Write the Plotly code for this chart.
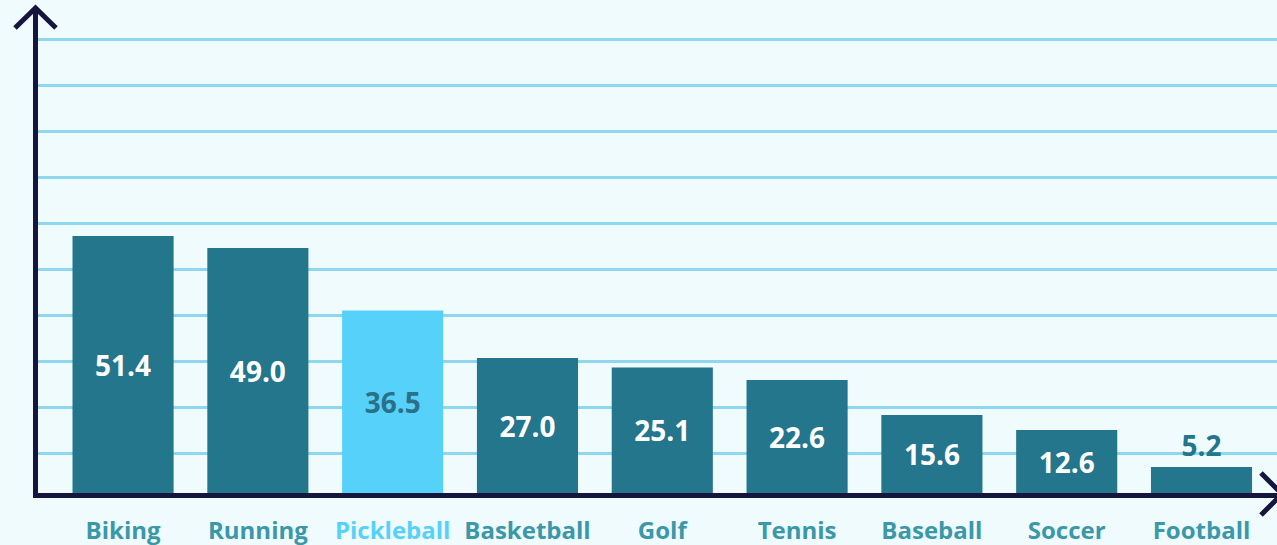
import plotly.graph_objects as go

categories = ["Biking", "Running", "Pickleball", "Basketball", "Golf", "Tennis", "Baseball", "Soccer", "Football"]
values = [51.4, 49.0, 36.5, 27.0, 25.1, 22.6, 15.6, 12.6, 5.2]
highlight = "Pickleball"

BG = "#effbfd"
BAR = "#23768b"
HI = "#56d1fa"
NAVY = "#15153d"
GRID = "#8fd7ef"
LABEL = "#3a98a9"

W, H = 1277, 545
ML, MR, MT, MB = 38, 0, 10, 52
PW, PH = W - ML - MR, H - MT - MB

bar_colors = [HI if c == highlight else BAR for c in categories]
text_colors = []
positions = []
for c, v in zip(categories, values):
    if v < 8:
        positions.append("outside")
        text_colors.append(BAR)
    elif c == highlight:
        positions.append("inside")
        text_colors.append("#2a7088")
    else:
        positions.append("inside")
        text_colors.append("white")

fig = go.Figure(go.Bar(
    x=list(range(len(categories))),
    y=values,
    marker=dict(color=bar_colors, line=dict(width=0)),
    text=[f"{v:.1f}" for v in values],
    textposition=positions,
    insidetextanchor="middle",
    textfont=dict(family="Open Sans", size=28, color=text_colors, weight="bold"),
    cliponaxis=False,
    width=0.75,
))

ticktext = [
    f'<span style="color:{HI}">{c}</span>' if c == highlight else c
    for c in categories
]

def px(x):
    return (x - ML) / PW

def py(y):
    return (MT + PH - y) / PH

shapes = [
    # y-axis arrow head
    dict(type="path", xref="paper", yref="paper",
         path=f"M {px(15)} {py(28)} L {px(35.5)} {py(8)} L {px(56)} {py(28)}",
         line=dict(color=NAVY, width=5)),
    dict(type="line", xref="paper", yref="paper",
         x0=px(35.5), x1=px(35.5), y0=py(20), y1=py(8),
         line=dict(color=NAVY, width=5)),
    # x-axis arrow head
    dict(type="path", xref="paper", yref="paper",
         path=f"M {px(1261)} {py(473)} L {px(1282)} {py(494)} L {px(1261)} {py(515)}",
         line=dict(color=NAVY, width=5)),
]

fig.update_layout(
    width=W, height=H,
    margin=dict(l=ML, r=MR, t=MT, b=MB),
    paper_bgcolor=BG, plot_bgcolor=BG,
    showlegend=False,
    shapes=shapes,
    xaxis=dict(
        range=[-0.631, 8.56],
        tickvals=list(range(len(categories))),
        ticktext=ticktext,
        tickfont=dict(family="Open Sans", size=24, color=LABEL, weight="bold"),
        showgrid=False, zeroline=False,
        showline=True, linecolor=NAVY, linewidth=5,
        ticks="", ticklabelstandoff=12,
        fixedrange=True,
    ),
    yaxis=dict(
        range=[0, PH / 5.0],
        tick0=8, dtick=9.2,
        showticklabels=False,
        showgrid=True, gridcolor=GRID, gridwidth=2.5,
        zeroline=False,
        showline=True, linecolor=NAVY, linewidth=5,
        ticks="",
        fixedrange=True,
    ),
)

fig.write_html(
    "out.html",
    config={"displayModeBar": False},
    post_script="document.body.style.margin='0';document.body.style.overflow='hidden';document.body.style.background='" + BG + "';",
)
